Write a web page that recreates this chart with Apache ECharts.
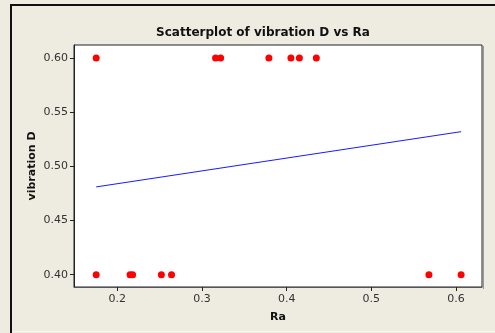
<!DOCTYPE html>
<html>
<head>
<meta charset="utf-8">
<script src="https://cdn.jsdelivr.net/npm/echarts@6/dist/echarts.min.js"></script>
<style>
  html, body { margin: 0; padding: 0; background: #eeebe1; }
  #chart { width: 495px; height: 333px; }
</style>
</head>
<body>
<div id="chart"></div>
<script>
// Ra vs vibration D readings
const raHigh = [0.175, 0.316, 0.322, 0.379, 0.405, 0.415, 0.435];
const vibHigh = [0.6, 0.6, 0.6, 0.6, 0.6, 0.6, 0.6];
const raLow = [0.175, 0.215, 0.218, 0.252, 0.264, 0.568, 0.606];
const vibLow = [0.4, 0.4, 0.4, 0.4, 0.4, 0.4, 0.4];
// fitted line end points
const fitRa = [0.175, 0.606];
const fitVib = [0.481, 0.532];
// tick positions
const xTicks = [0.2, 0.3, 0.4, 0.5, 0.6];
const yTicks = [0.4, 0.45, 0.5, 0.55, 0.6];

const pts = raHigh.map((x, i) => [x, vibHigh[i]])
  .concat(raLow.map((x, i) => [x, vibLow[i]]));
const fit = fitRa.map((x, i) => [x, fitVib[i]]);

const font = "Tahoma, 'DejaVu Sans', sans-serif";

const chart = echarts.init(document.getElementById("chart"));
chart.setOption({
  backgroundColor: "#eeebe1",
  animation: false,
  title: {
    text: "Scatterplot of vibration D vs Ra",
    left: 258,
    top: 22,
    textAlign: "center",
    textStyle: { fontFamily: font, fontSize: 12, fontWeight: "bold", color: "#111" },
  },
  grid: {
    left: 74,
    top: 45,
    right: 13,
    bottom: 46,
    show: true,
    backgroundColor: "#fff",
    borderColor: "#222",
    borderWidth: 1,
  },
  xAxis: {
    type: "value",
    min: 0.1488,
    max: 0.6307,
    name: "Ra",
    nameLocation: "middle",
    nameGap: 25,
    nameMoveOverlap: false,
    nameTextStyle: { fontFamily: font, fontSize: 11, fontWeight: "bold", color: "#111" },
    axisLine: { show: true, lineStyle: { color: "#555" } },
    axisTick: { show: true, length: 4, lineStyle: { color: "#222" }, customValues: xTicks },
    axisLabel: {
      fontFamily: font, fontSize: 11, color: "#333", margin: 7,
      customValues: xTicks,
      formatter: (v) => v.toFixed(1),
    },
    splitLine: { show: false },
  },
  yAxis: {
    type: "value",
    min: 0.3886,
    max: 0.612,
    name: "vibration D",
    nameLocation: "middle",
    nameGap: 36,
    nameMoveOverlap: false,
    nameTextStyle: { fontFamily: font, fontSize: 11, fontWeight: "bold", color: "#111" },
    axisLine: { show: true, lineStyle: { color: "#222" } },
    axisTick: { show: true, length: 4, lineStyle: { color: "#222" }, customValues: yTicks },
    axisLabel: {
      fontFamily: font, fontSize: 11, color: "#333", margin: 6,
      customValues: yTicks,
      formatter: (v) => v.toFixed(2),
    },
    splitLine: { show: false },
  },
  graphic: [
    { type: "line", shape: { x1: 11, y1: 5, x2: 11, y2: 333 }, style: { stroke: "#111", lineWidth: 2 } },
    { type: "line", shape: { x1: 10, y1: 5, x2: 495, y2: 5 }, style: { stroke: "#111", lineWidth: 2 } },
    { type: "line", shape: { x1: 12, y1: 331.5, x2: 495, y2: 331.5 }, style: { stroke: "#f7f5ef", lineWidth: 1 } },
    { type: "line", shape: { x1: 483.5, y1: 46, x2: 483.5, y2: 289 }, style: { stroke: "#999", lineWidth: 1 } },
  ],
  series: [
    {
      type: "line",
      data: fit,
      symbol: "none",
      lineStyle: { color: "#1a1aff", width: 1 },
      silent: true,
    },
    {
      type: "scatter",
      data: pts,
      symbol: "circle",
      symbolSize: 7,
      itemStyle: { color: "#ff0000", opacity: 1 },
    },
  ],
});
</script>
</body>
</html>
